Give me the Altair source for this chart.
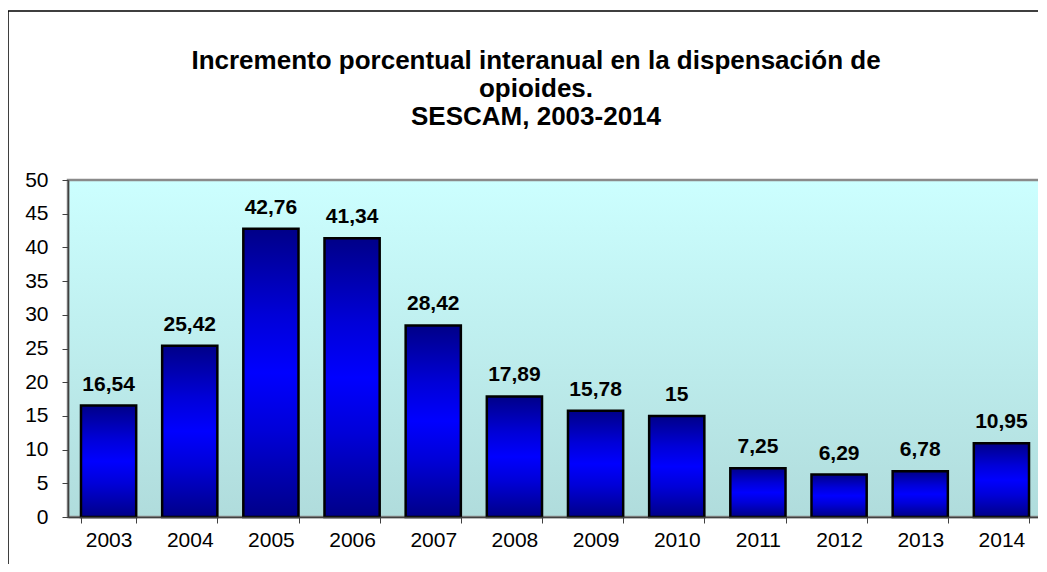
import altair as alt
import pandas as pd

years = ["2003", "2004", "2005", "2006", "2007", "2008",
         "2009", "2010", "2011", "2012", "2013", "2014"]
values = [16.54, 25.42, 42.76, 41.34, 28.42, 17.89,
          15.78, 15, 7.25, 6.29, 6.78, 10.95]
labels = [f"{v:g}".replace(".", ",") for v in values]
title_lines = ["Incremento porcentual interanual en la dispensación de",
               "opioides.",
               "SESCAM, 2003-2014"]
y_ticks = [0, 5, 10, 15, 20, 25, 30, 35, 40, 45, 50]

df = pd.DataFrame({"year": years, "value": values, "label": labels})

W, H = 974, 337
FONT = "Liberation Sans"

bar_grad = alt.Gradient(
    gradient="linear", x1=0, x2=0, y1=0, y2=1,
    stops=[alt.GradientStop(offset=0, color="#000088"),
           alt.GradientStop(offset=0.3, color="#0000d8"),
           alt.GradientStop(offset=0.5, color="#0000ff"),
           alt.GradientStop(offset=0.7, color="#0000d8"),
           alt.GradientStop(offset=1, color="#000088")])
bg_grad = alt.Gradient(
    gradient="linear", x1=0, x2=0, y1=0, y2=1,
    stops=[alt.GradientStop(offset=0, color="#ccffff"),
           alt.GradientStop(offset=1, color="#b0dcdc")])

x_axis = alt.Axis(title=None, labelAngle=0, tickBand="extent",
                  labelFont=FONT, labelFontSize=21, labelColor="black",
                  labelPadding=6, tickSize=6, tickColor="#404040",
                  domainColor="#404040", domainWidth=1.5, zindex=1)
y_axis = alt.Axis(title=None, values=y_ticks, grid=False, labelOverlap=False,
                  labelFont=FONT, labelFontSize=21, labelColor="black",
                  labelPadding=14, tickSize=6, tickColor="#404040",
                  domainColor="#404040", domainWidth=1.5, zindex=1)

x_enc = alt.X("year:N", sort=years,
              scale=alt.Scale(paddingInner=0.32, paddingOuter=0.16),
              axis=x_axis)
y_enc = alt.Y("value:Q", scale=alt.Scale(domain=[0, 50], nice=False), axis=y_axis)

background = alt.Chart(alt.Data(values=[{}])).mark_rect(
    color=bg_grad, stroke="#8a8a8a", strokeWidth=2.5
).encode(x=alt.value(0), x2=alt.value(W), y=alt.value(0), y2=alt.value(H))

frame = alt.Chart(alt.Data(values=[{}])).mark_rect(
    filled=False, stroke="black", strokeWidth=1.5
).encode(x=alt.value(-60), x2=alt.value(1000), y=alt.value(-169), y2=alt.value(420))

bars = alt.Chart(df).mark_bar(
    color=bar_grad, stroke="black", strokeWidth=2.5
).encode(x=x_enc, y=y_enc)

text = alt.Chart(df).mark_text(
    baseline="bottom", dy=-11, font=FONT, fontSize=21, fontWeight="bold", color="black"
).encode(x=x_enc, y=y_enc, text="label:N")

chart = alt.layer(frame, background, bars, text).properties(
    width=W, height=H,
    title=alt.TitleParams(text=title_lines, font=FONT, fontSize=26, fontWeight="bold",
                          color="black", anchor="middle", frame="group", dx=-19,
                          offset=-120, lineHeight=28),
    autosize=alt.AutoSizeParams(type="none"),
    padding={"left": 60, "top": 172, "right": -4, "bottom": 47},
).configure_view(stroke=None)

chart.save("out.html", embed_options={"renderer": "svg", "actions": False})
